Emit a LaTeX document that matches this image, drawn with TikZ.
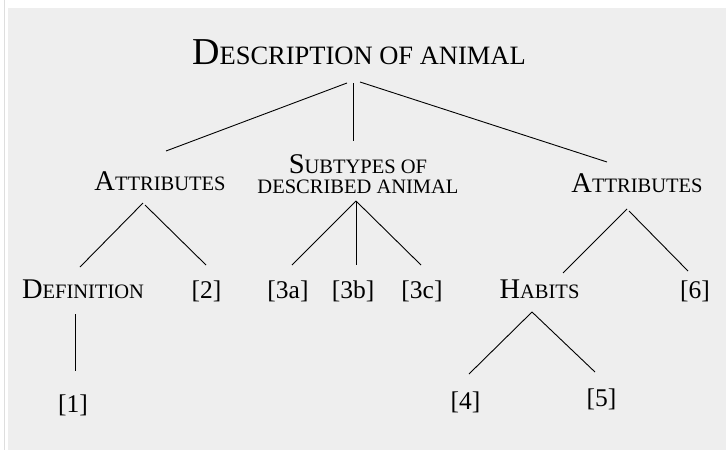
\documentclass[tikz,border=0pt]{standalone}
\usepackage{fontspec}
\setmainfont{Liberation Serif}
\usetikzlibrary{calc}
\definecolor{mygray1}{RGB}{238, 238, 238}
\definecolor{mygray2}{RGB}{222, 222, 222}
\newcommand{\bigsc}[2]{{\fontsize{38}{40}\selectfont #1}{\fontsize{26.5}{28}\selectfont #2}}
\newcommand{\midsc}[2]{{\fontsize{28.5}{30}\selectfont #1}{\fontsize{20.5}{22}\selectfont #2}}

\begin{document}
\begin{tikzpicture}[
    x = 1pt, y = -1pt,
    lab/.style = {anchor = base, inner sep = 0pt, outer sep = 0pt},
    ref/.style = {lab, font = \fontsize{25.5}{27}\selectfont},
    edge/.style = {line width = 0.9pt}
]
\useasboundingbox (0,0) rectangle (726,450);
\fill[white] (0,0) rectangle (726,450);
\draw[mygray2, line width = 1pt] (4,0) -- (4,450);
\fill[mygray1] (8,8) rectangle (726,450);

% labels
\node[lab] (title) at (359,64) {\bigsc{D}{ESCRIPTION OF ANIMAL}};
\node[lab] (attrL) at (160,190) {\midsc{A}{TTRIBUTES}};
\node[lab, align = center, font = \fontsize{20.5}{20}\selectfont] (sub) at (358,193) {\midsc{S}{UBTYPES OF}\\DESCRIBED ANIMAL};
\node[lab] (attrR) at (637,192) {\midsc{A}{TTRIBUTES}};
\node[lab] (def) at (83,298) {\midsc{D}{EFINITION}};
\node[ref] (n2) at (206.5,298) {[2]};
\node[ref] (n3a) at (288,298) {[3a]};
\node[ref] (n3b) at (353,298) {[3b]};
\node[ref] (n3c) at (422,298) {[3c]};
\node[lab] (hab) at (539.5,298) {\midsc{H}{ABITS}};
\node[ref] (n6) at (695,298) {[6]};
\node[ref] (n1) at (73,412.5) {[1]};
\node[ref] (n4) at (465.5,409.5) {[4]};
\node[ref] (n5) at (601.5,406) {[5]};

% branches
\draw[edge] ([shift={(-12,19)}]title.base) -- ([shift={(6,-39)}]attrL.base);
\draw[edge] ([shift={(-6,19)}]title.base) -- ([shift={(-5,-52)}]sub.base);
\draw[edge] ([shift={(1,18)}]title.base) -- ([shift={(-30,-30)}]attrR.base);

\draw[edge] ([shift={(-17,13)}]attrL.base) -- ([shift={(-3,-31)}]def.base);
\draw[edge] ([shift={(-15,15)}]attrL.base) -- ([shift={(-0.5,-33)}]n2.base);

\draw[edge] ([shift={(-2,8)}]sub.base) -- ([shift={(4,-33)}]n3a.base);
\draw[edge] ([shift={(-2,8)}]sub.base) -- ([shift={(3,-33)}]n3b.base);
\draw[edge] ([shift={(-2,8)}]sub.base) -- ([shift={(-1,-33)}]n3c.base);

\draw[edge] ([shift={(-10,17)}]attrR.base) -- ([shift={(23.5,-25)}]hab.base);
\draw[edge] ([shift={(-8,19)}]attrR.base) -- ([shift={(-7,-27)}]n6.base);

\draw[edge] ([shift={(-8,16)}]def.base) -- ([shift={(2,-41.5)}]n1.base);
\draw[edge] ([shift={(-7.5,14)}]hab.base) -- ([shift={(3.5,-35.5)}]n4.base);
\draw[edge] ([shift={(-7.5,14)}]hab.base) -- ([shift={(-6.5,-34)}]n5.base);

\end{tikzpicture}
\end{document}
